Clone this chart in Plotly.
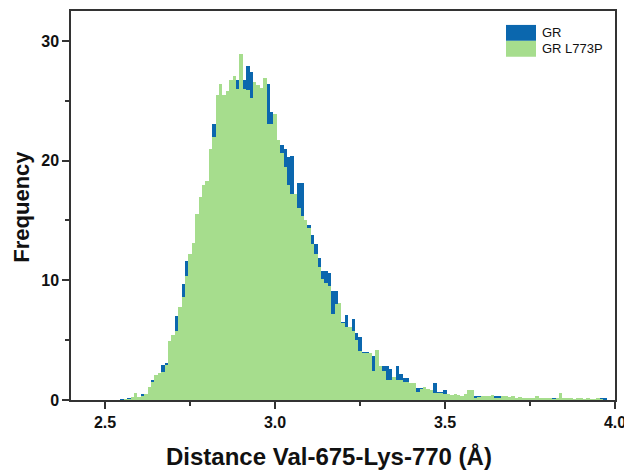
import plotly.graph_objects as go

# Bin centres (Å), bin width 0.01
bin_start = 2.55
bin_width = 0.01

gr_l773p = [
    0.0, 0.05, 0.05, 0.28, 0.55, 0.28, 0.36, 0.5, 1.05, 1.5,
    2.1, 2.26, 2.3, 2.9, 4.9, 5.4, 5.8, 7.8, 8.6, 10.4,
    12.2, 13.1, 15.5, 17.0, 18.0, 18.3, 21.0, 22.0, 25.5, 26.4,
    25.5, 25.8, 26.7, 27.1, 26.0, 28.9, 26.0, 25.9, 25.2, 26.6,
    26.3, 26.1, 26.9, 23.1, 23.1, 23.9, 21.7, 20.6, 19.5, 18.0,
    17.2, 17.2, 16.0, 15.4, 15.0, 14.4, 13.0, 12.2, 11.1, 10.1,
    9.8, 9.5, 7.2, 8.0, 8.1, 6.4, 6.1, 6.1, 5.8, 5.0,
    4.1, 3.9, 3.9, 3.9, 2.4, 4.2, 2.8, 2.4, 1.7, 1.7,
    1.9, 1.7, 1.7, 1.5, 1.5, 1.4, 1.4, 0.7, 0.9, 1.1,
    0.9, 0.8, 0.6, 0.6, 0.6, 0.5, 0.5, 0.45, 0.5, 0.4,
    0.35, 0.5, 0.8, 0.8, 0.2, 0.25, 0.35, 0.35, 0.3, 0.4,
    0.2, 0.2, 0.3, 0.3, 0.25, 0.3, 0.2, 0.25, 0.2, 0.1,
    0.2, 0.15, 0.35, 0.1, 0.1, 0.1, 0.1, 0.05, 0.1, 0.55,
    0.2, 0.2, 0.1, 0.05, 0.1, 0.15, 0.05, 0.2, 0.05, 0.05,
    0.2, 0.05, 0.0, 0.0,
]

gr = [
    0.08, 0.05, 0.1, 0.2, 0.4, 0.25, 0.5, 0.45, 0.9, 1.7,
    1.9, 2.1, 2.9, 3.1, 4.6, 5.2, 7.0, 7.5, 9.7, 11.6,
    11.8, 12.9, 15.2, 16.8, 17.7, 18.1, 20.7, 23.1, 25.3, 26.2,
    25.3, 25.6, 26.4, 26.9, 26.7, 26.8, 26.7, 27.9, 27.4, 26.4,
    26.1, 25.9, 26.5, 26.4, 24.1, 23.7, 21.5, 21.3, 21.0, 20.3,
    20.4, 17.0, 18.1, 18.1, 14.8, 14.6, 13.8, 13.0, 11.9, 10.8,
    10.8, 10.6, 9.1, 9.1, 7.9, 6.5, 7.1, 5.9, 6.8, 5.6,
    5.3, 4.0, 4.0, 3.7, 3.7, 4.0, 2.8, 2.8, 2.8, 2.6,
    1.8, 2.8, 2.2, 1.8, 1.8, 1.3, 1.3, 1.0, 1.0, 1.0,
    0.8, 0.7, 1.4, 0.7, 0.7, 0.8, 0.4, 0.4, 0.45, 0.35,
    0.3, 0.45, 0.5, 0.6, 0.3, 0.35, 0.3, 0.3, 0.25, 0.35,
    0.3, 0.3, 0.25, 0.2, 0.2, 0.25, 0.15, 0.2, 0.15, 0.1,
    0.15, 0.1, 0.2, 0.2, 0.2, 0.2, 0.15, 0.1, 0.05, 0.1,
    0.1, 0.1, 0.05, 0.05, 0.05, 0.1, 0.05, 0.1, 0.05, 0.0,
    0.05, 0.1, 0.1, 0.0,
]

centres = [round(bin_start + i * bin_width, 2) for i in range(len(gr))]

series_names = ["GR", "GR L773P"]
colors = ["#0b67ae", "#a6dd8d"]

fig = go.Figure()
fig.add_trace(go.Bar(x=centres, y=gr, width=bin_width, name=series_names[0],
                     marker=dict(color=colors[0], line=dict(width=0))))
fig.add_trace(go.Bar(x=centres, y=gr_l773p, width=bin_width, name=series_names[1],
                     marker=dict(color=colors[1], line=dict(width=0))))

axis_col = "#333333"
font_fam = "Liberation Sans, Arial, sans-serif"

# page body has an 8px default margin, so the figure is sized/offset to compensate
fig.update_layout(
    width=624, height=465,
    margin=dict(l=63, r=17, t=1, b=73),
    barmode="overlay", bargap=0,
    paper_bgcolor="white", plot_bgcolor="white",
    showlegend=False,
    font=dict(family=font_fam, color="#111111"),
)
fig.update_xaxes(
    range=[2.4, 4.0], tick0=2.5, dtick=0.5, tickformat=".1f",
    showgrid=False, zeroline=False,
    showline=True, linecolor=axis_col, linewidth=1.5, mirror=True,
    ticks="outside", ticklen=7, tickwidth=1.5, tickcolor=axis_col,
    tickfont=dict(size=16, weight="bold", family=font_fam, color="#111111"),
    minor=dict(dtick=0.25, tick0=2.5, ticks="outside", ticklen=4, tickwidth=1.5,
               tickcolor=axis_col, showgrid=False),
)
fig.update_yaxes(
    range=[0, 32.5], tick0=0, dtick=10,
    showgrid=False, zeroline=False,
    showline=True, linecolor=axis_col, linewidth=1.5, mirror=True,
    ticks="outside", ticklen=7, tickwidth=1.5, tickcolor=axis_col,
    tickfont=dict(size=16, weight="bold", family=font_fam, color="#111111"),
    minor=dict(dtick=5, tick0=0, ticks="outside", ticklen=4, tickwidth=1.5,
               tickcolor=axis_col, showgrid=False),
)

# Axis titles
fig.add_annotation(text="Distance Val-675-Lys-770 (Å)", xref="paper", yref="paper",
                   x=0.474, y=-0.146, xanchor="center", yanchor="middle", showarrow=False,
                   font=dict(size=24, weight="bold", family=font_fam, color="#111111"))
fig.add_annotation(text="Frequency", xref="paper", yref="paper", textangle=-90,
                   x=-0.090, y=0.497, xanchor="center", yanchor="middle", showarrow=False,
                   font=dict(size=22, weight="bold", family=font_fam, color="#111111"))

# Legend drawn as swatches + labels
leg_x0, leg_x1 = 0.7996, 0.8548
leg_rows = [(0.9233, 0.9642), (0.8824, 0.9233)]
for (y0, y1), col, name in zip(leg_rows, colors, series_names):
    fig.add_shape(type="rect", xref="paper", yref="paper", x0=leg_x0, x1=leg_x1,
                  y0=y0, y1=y1, fillcolor=col, line=dict(width=0), layer="above")
    fig.add_annotation(text=name, xref="paper", yref="paper", x=0.862, y=(y0 + y1) / 2,
                       xanchor="left", yanchor="middle", showarrow=False,
                       font=dict(size=13, family=font_fam, color="#111111"))

fig.write_html("out.html")
